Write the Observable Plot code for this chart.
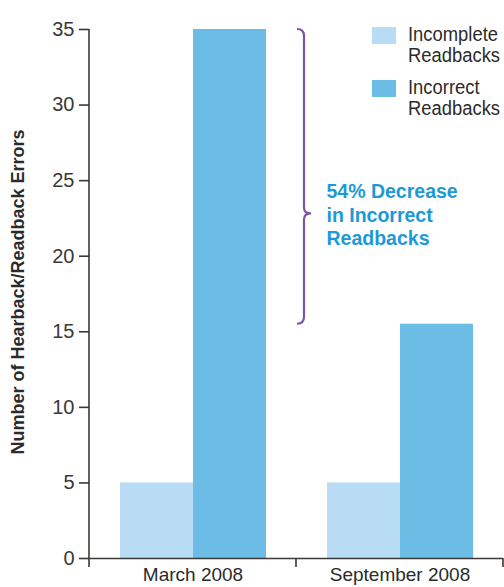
<!DOCTYPE html>
<html>
<head>
<meta charset="utf-8">
<script src="https://cdn.jsdelivr.net/npm/d3@7"></script>
<script src="https://cdn.jsdelivr.net/npm/@observablehq/plot@0.6"></script>
<style>
  body { margin: 0; background: #fff; font-family: "Liberation Sans", Arial, sans-serif; }
  #chart { position: relative; width: 504px; height: 587px; }
  #ytitle {
    position: absolute; left: 17.5px; top: 292px;
    transform: translate(-50%, -50%) rotate(-90deg);
    white-space: nowrap; font-weight: bold; font-size: 18px; color: #2b2b2b;
  }
  #legend { position: absolute; left: 372px; top: 24px; }
  .entry { position: relative; height: 53px; }
  .swatch { position: absolute; left: 0; top: 3px; width: 24px; height: 17px; }
  .label {
    position: absolute; left: 36px; top: 0; font-size: 20px; line-height: 21px; color: #2b2b2b;
    transform: scaleX(0.92); transform-origin: left top; white-space: nowrap;
  }
</style>
</head>
<body>
<div id="chart"></div>
<script>
// Survey periods and the two kinds of readback errors
const periods = ["March 2008", "September 2008"];
const seriesNames = ["Incomplete Readbacks", "Incorrect Readbacks"];
const seriesColors = ["#b7dcf3", "#6bbde6"];

// Counts per period
const incompleteValues = [5, 5];
const incorrectValues = [35, 15.5];

// Axis
const yTicks = [0, 5, 10, 15, 20, 25, 30, 35];
const yTitle = "Number of Hearback/Readback Errors";

// Callout
const noteText = "54% Decrease\nin Incorrect\nReadbacks";
const notePeriod = "September 2008";
const noteLevel = 22.8;

const axisColor = "#3b3835";

const rows = periods.flatMap((period, i) => [
  {period, series: seriesNames[0], value: incompleteValues[i]},
  {period, series: seriesNames[1], value: incorrectValues[i]}
]);

// Y-axis domain line, tick marks at the period boundaries, and the brace
// spanning the drop in incorrect readbacks. Drawn once, in the first facet
// (whose coordinates coincide with the whole chart's).
let frameDrawn = false;
function frameAndBrace(index, scales) {
  if (index && index.fx !== undefined) {
    if (index.fx !== periods[0]) return null;
  } else if (frameDrawn) {
    return null;
  }
  frameDrawn = true;
  const fx = scales.fx, y = scales.y;
  const g = d3.create("svg:g").attr("fill", "none");
  const x0 = fx(periods[0]);
  const bw = fx.bandwidth();
  const base = y(0);
  const tick = 9;
  g.append("line")
    .attr("x1", x0).attr("x2", x0)
    .attr("y1", y(d3.max(yTicks))).attr("y2", base + tick)
    .attr("stroke", axisColor).attr("stroke-width", 1.6);
  for (let k = 1; k <= periods.length; ++k) {
    const xk = x0 + k * bw;
    g.append("line")
      .attr("x1", xk).attr("x2", xk)
      .attr("y1", base).attr("y2", base + tick)
      .attr("stroke", axisColor).attr("stroke-width", 1.6);
  }
  // brace
  const bx = fx(notePeriod) + 8;
  const top = y(incorrectValues[0]);
  const bot = y(incorrectValues[1]);
  const mid = y(noteLevel);
  const path = d3.path();
  path.moveTo(bx - 7, top);
  path.quadraticCurveTo(bx, top, bx, top + 7);
  path.lineTo(bx, mid - 6);
  path.quadraticCurveTo(bx, mid, bx + 7, mid);
  path.quadraticCurveTo(bx, mid, bx, mid + 6);
  path.lineTo(bx, bot - 7);
  path.quadraticCurveTo(bx, bot, bx - 7, bot);
  g.append("path").attr("d", path.toString())
    .attr("stroke", "#7a55a3").attr("stroke-width", 2.2);
  return g.node();
}

const chart = Plot.plot({
  width: 504,
  height: 587,
  marginLeft: 89,
  marginRight: 1,
  marginTop: 29,
  marginBottom: 29,
  style: {fontFamily: '"Liberation Sans", Arial, sans-serif', background: "#fff", overflow: "visible"},
  fx: {domain: periods, padding: 0, label: null},
  x: {domain: seriesNames, paddingInner: 0, paddingOuter: 0.4, axis: null},
  y: {domain: [0, 35], label: null},
  color: {domain: seriesNames, range: seriesColors},
  marks: [
    Plot.barY(rows, {fx: "period", x: "series", y: "value", fill: "series"}),
    Plot.ruleY([0], {stroke: axisColor, strokeWidth: 1.6}),
    Plot.axisY({ticks: yTicks, tickSize: 10, tickPadding: 5, fontSize: 20, color: axisColor, strokeWidth: 1.6, label: null}),
    Plot.axisFx({anchor: "bottom", tickSize: 0, tickPadding: 9, fontSize: 19, color: "#2b2b2b", label: null}),
    Plot.text([{period: notePeriod, level: noteLevel, text: noteText}], {
      fx: "period", y: "level", text: "text",
      frameAnchor: "left", dx: 30, textAnchor: "start", lineAnchor: "middle",
      fill: "#1d99d6", fontSize: 19.5, fontWeight: "bold", lineHeight: 1.22
    }),
    frameAndBrace
  ]
});

const container = document.getElementById("chart");
container.appendChild(chart);

const title = document.createElement("div");
title.id = "ytitle";
title.textContent = yTitle;
container.appendChild(title);

const color = chart.scale("color");
const legend = document.createElement("div");
legend.id = "legend";
seriesNames.forEach((name, i) => {
  const entry = document.createElement("div");
  entry.className = "entry";
  const sw = document.createElement("div");
  sw.className = "swatch";
  sw.style.background = color.range[i];
  const lab = document.createElement("div");
  lab.className = "label";
  lab.innerHTML = name.split(" ").join("<br>");
  entry.appendChild(sw);
  entry.appendChild(lab);
  legend.appendChild(entry);
});
container.appendChild(legend);
</script>
</body>
</html>
